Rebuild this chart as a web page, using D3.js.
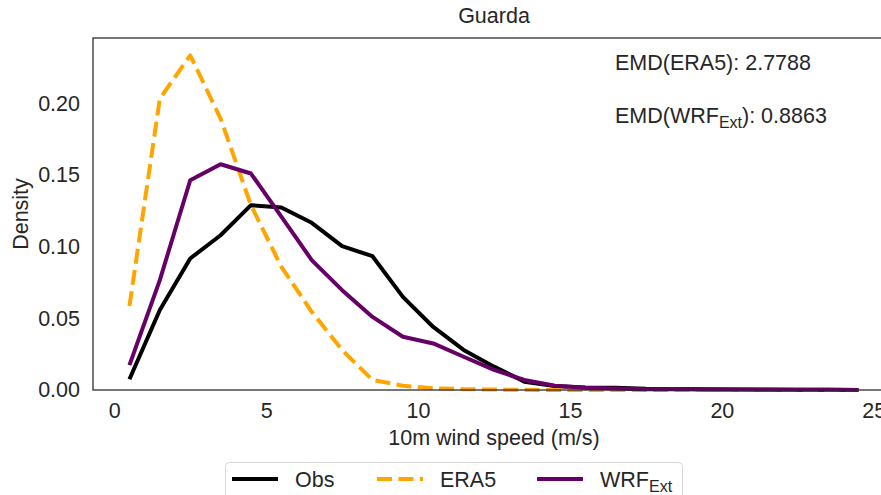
<!DOCTYPE html>
<html>
<meta charset="utf-8">
<style>
body { margin: 0; background: #fff; }
svg { display: block; overflow: hidden; }
text { font-family: Arial, "Liberation Sans", sans-serif; fill: #262626; }
</style>
<script src="https://d3js.org/d3.v7.min.js"></script>
<body>
<div id="my_dataviz"></div>
<script>
// bins of 10m wind speed (m/s), bin centres
var windBins = [0.5, 1.5, 2.5, 3.5, 4.5, 5.5, 6.5, 7.5, 8.5, 9.5, 10.5, 11.5, 12.5,
                13.5, 14.5, 15.5, 16.5, 17.5, 18.5, 19.5, 20.5, 21.5, 22.5, 23.5, 24.5];

// densities
var obsDensity  = [0.0075, 0.0558, 0.0918, 0.108, 0.129, 0.1274, 0.1167, 0.1004, 0.0934, 0.065,
                   0.044, 0.028, 0.0163, 0.0058, 0.0028, 0.0018, 0.0015, 0.0008, 0.0007, 0.0005,
                   0.0004, 0.0003, 0.0002, 0.0001, 0.0];
var era5Density = [0.0586, 0.2034, 0.2336, 0.1895, 0.129, 0.086, 0.0546, 0.0279, 0.007, 0.003,
                   0.0012, 0.0006, 0.0003, 0.0001, 0.0, 0.0, 0.0, 0.0, 0.0, 0.0,
                   0.0, 0.0, 0.0, 0.0, 0.0];
var wrfDensity  = [0.0174, 0.0767, 0.1464, 0.1576, 0.1511, 0.121, 0.0907, 0.0697, 0.051, 0.0372,
                   0.0325, 0.0232, 0.014, 0.007, 0.003, 0.0015, 0.001, 0.0005, 0.0007, 0.0004,
                   0.0003, 0.0002, 0.0001, 0.0001, 0.0];

var xTicks = [0, 5, 10, 15, 20, 25];
var yTicks = [0.00, 0.05, 0.10, 0.15, 0.20];
var emdEra5 = "2.7788";
var emdWrf = "0.8863";

var margin = {top: 38, right: -14, bottom: 105, left: 93},
    W = 881, H = 495,
    fs = "21.5px", fsSub = "16px";

var svg = d3.select("#my_dataviz")
  .append("svg")
    .attr("width", W)
    .attr("height", H);

var x = d3.scaleLinear()
  .domain([-0.7, 25.7])
  .range([margin.left, W - margin.right]);

var y = d3.scaleLinear()
  .domain([0, 0.2457])
  .range([H - margin.bottom, margin.top]);

// X axis
var xAxis = svg.append("g")
  .attr("transform", "translate(0," + y(0) + ")")
  .call(d3.axisBottom(x).tickValues(xTicks).tickSize(0).tickPadding(13).tickFormat(d3.format("d")));
xAxis.select(".domain").remove();
xAxis.selectAll("text").style("font-size", fs).attr("fill", "#262626");

// Y axis
var yAxis = svg.append("g")
  .attr("transform", "translate(" + margin.left + ",0)")
  .call(d3.axisLeft(y).tickValues(yTicks).tickSize(0).tickPadding(13).tickFormat(d3.format(".2f")));
yAxis.select(".domain").remove();
yAxis.selectAll("text").style("font-size", fs).attr("fill", "#262626");

// lines
var series = [
  {name: "Obs",  values: obsDensity,  color: "#000000", dash: null},
  {name: "ERA5", values: era5Density, color: "#FFA500", dash: "15,6.4"},
  {name: "WRF",  values: wrfDensity,  color: "#660066", dash: null}
];

var line = d3.line()
  .x(function(d, i) { return x(windBins[i]); })
  .y(function(d) { return y(d); });

svg.selectAll("path.series")
  .data(series)
  .enter()
  .append("path")
    .attr("class", "series")
    .attr("fill", "none")
    .attr("stroke", function(d) { return d.color; })
    .attr("stroke-width", 4)
    .attr("stroke-linejoin", "round")
    .attr("stroke-dasharray", function(d) { return d.dash; })
    .attr("d", function(d) { return line(d.values); });

// spines
svg.append("rect")
  .attr("x", margin.left)
  .attr("y", margin.top)
  .attr("width", W - margin.right - margin.left)
  .attr("height", y(0) - margin.top)
  .attr("fill", "none")
  .attr("stroke", "#262626")
  .attr("stroke-width", 1.25);

// title and axis labels
svg.append("text")
  .attr("x", (margin.left + W - margin.right) / 2)
  .attr("y", 23)
  .attr("text-anchor", "middle")
  .style("font-size", fs)
  .text("Guarda");

svg.append("text")
  .attr("x", (margin.left + W - margin.right) / 2)
  .attr("y", 445)
  .attr("text-anchor", "middle")
  .style("font-size", fs)
  .text("10m wind speed (m/s)");

svg.append("text")
  .attr("transform", "translate(28," + ((margin.top + y(0)) / 2) + ") rotate(-90)")
  .attr("text-anchor", "middle")
  .style("font-size", fs)
  .text("Density");

// EMD annotations
svg.append("text")
  .attr("x", 615)
  .attr("y", 70)
  .style("font-size", fs)
  .text("EMD(ERA5): " + emdEra5);

var t2 = svg.append("text")
  .attr("x", 615)
  .attr("y", 123)
  .style("font-size", fs);
t2.append("tspan").text("EMD(WRF");
t2.append("tspan").attr("dy", 5).style("font-size", fsSub).text("Ext");
t2.append("tspan").attr("dy", -5).text("): " + emdWrf);

// legend
var legend = svg.append("g");
legend.append("rect")
  .attr("x", 225.5)
  .attr("y", 462.5)
  .attr("width", 457)
  .attr("height", 50)
  .attr("rx", 4)
  .attr("fill", "#fff")
  .attr("stroke", "#d6d6d6")
  .attr("stroke-width", 1);

var legendX = [232, 377, 537];
series.forEach(function(s, i) {
  legend.append("line")
    .attr("x1", legendX[i])
    .attr("x2", legendX[i] + 46)
    .attr("y1", 479)
    .attr("y2", 479)
    .attr("stroke", s.color)
    .attr("stroke-width", 4)
    .attr("stroke-dasharray", s.dash);
  var lt = legend.append("text")
    .attr("x", legendX[i] + 63)
    .attr("y", 487)
    .style("font-size", fs);
  lt.append("tspan").text(s.name);
  if (s.name === "WRF") {
    lt.append("tspan").attr("dy", 5).style("font-size", fsSub).text("Ext");
  }
});
</script>
</body>
</html>
